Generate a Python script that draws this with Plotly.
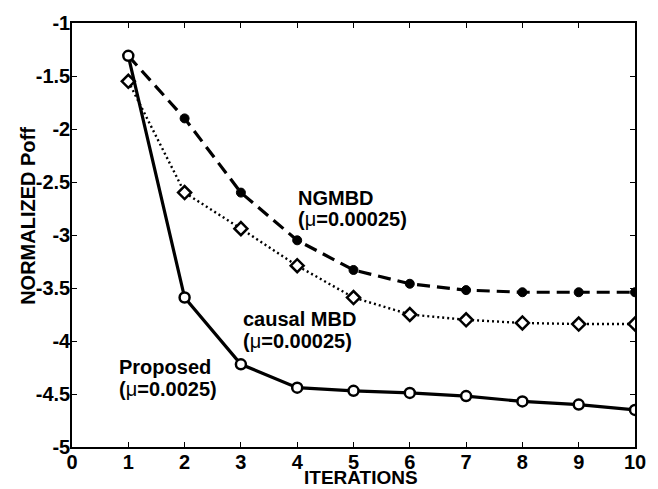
import plotly.graph_objects as go

iterations = [1, 2, 3, 4, 5, 6, 7, 8, 9, 10]
ngmbd = [-1.31, -1.90, -2.60, -3.05, -3.33, -3.46, -3.52, -3.54, -3.54, -3.54]
causal_mbd = [-1.55, -2.60, -2.94, -3.29, -3.59, -3.75, -3.80, -3.83, -3.84, -3.84]
proposed = [-1.31, -3.59, -4.22, -4.44, -4.47, -4.49, -4.52, -4.57, -4.60, -4.65]

x_ticks = [0, 1, 2, 3, 4, 5, 6, 7, 8, 9, 10]
y_ticks = [-5, -4.5, -4, -3.5, -3, -2.5, -2, -1.5, -1]
y_ticktext = ["-5", "-4.5", "-4", "-3.5", "-3", "-2.5", "-2", "-1.5", "-1"]

FONT = "Arial, 'Liberation Sans', Helvetica, sans-serif"

fig = go.Figure()

fig.add_trace(go.Scatter(
    x=iterations, y=causal_mbd, mode="lines+markers",
    line=dict(color="black", width=2.4, dash="2px,3px"),
    marker=dict(symbol="diamond", size=10, color="white",
                line=dict(color="black", width=2.5)),
    showlegend=False))

fig.add_trace(go.Scatter(
    x=iterations, y=ngmbd, mode="lines+markers",
    line=dict(color="black", width=3.2, dash="13px,7px"),
    marker=dict(symbol="circle", size=9, color="black",
                line=dict(color="black", width=1)),
    showlegend=False))

fig.add_trace(go.Scatter(
    x=iterations, y=proposed, mode="lines+markers",
    line=dict(color="black", width=3.2),
    marker=dict(symbol="circle", size=10, color="white",
                line=dict(color="black", width=2.5)),
    showlegend=False))

axis_common = dict(
    showgrid=False, zeroline=False, showline=True, linecolor="black",
    linewidth=1.5, mirror="ticks", ticks="inside", ticklen=5,
    tickcolor="black", tickwidth=1,
    tickfont=dict(family=FONT, size=20, color="black", weight="bold"),
)

fig.update_xaxes(range=[0, 10], tickvals=x_ticks, ticklabelstandoff=-4,
                 **axis_common)
fig.update_yaxes(range=[-5, -1], tickvals=y_ticks, ticktext=y_ticktext,
                 ticklabelstandoff=-4, **axis_common)

ann_font = dict(family=FONT, size=20, color="black", weight="bold")
mu = "<span style='font-weight:normal'>μ</span>"


def add_label(text, xpix, ypix):
    # pixel position (left edge, vertical centre) -> paper coords
    fig.add_annotation(text=text, xref="paper", yref="paper",
                       x=(xpix - 72) / 568, y=(447 - ypix) / 434,
                       xanchor="left", yanchor="middle", showarrow=False,
                       align="left", font=ann_font)


add_label("NGMBD", 298, 192)
add_label("(" + mu + "=0.00025)", 298, 214)
add_label("causal MBD", 243, 316)
add_label("(" + mu + "=0.00025)", 243, 338)
add_label("Proposed", 117, 365)
add_label("(" + mu + "=0.0025)", 117, 388)

fig.add_annotation(text="ITERATIONS", xref="paper", yref="paper",
                   x=(364 - 72) / 568, y=(447 - 478) / 434,
                   xanchor="center", yanchor="middle", showarrow=False,
                   font=dict(family=FONT, size=19, color="black", weight="bold"))
fig.add_annotation(text="NORMALIZED Poff", xref="paper", yref="paper",
                   x=(28 - 72) / 568, y=(447 - 210) / 434, textangle=-90,
                   xanchor="center", yanchor="middle", showarrow=False,
                   font=dict(family=FONT, size=20, color="black", weight="bold"))

fig.update_layout(
    width=658, height=489,
    margin=dict(l=72, r=18, t=13, b=42, pad=0),
    plot_bgcolor="white", paper_bgcolor="white",
)

fig.write_html("out.html")
